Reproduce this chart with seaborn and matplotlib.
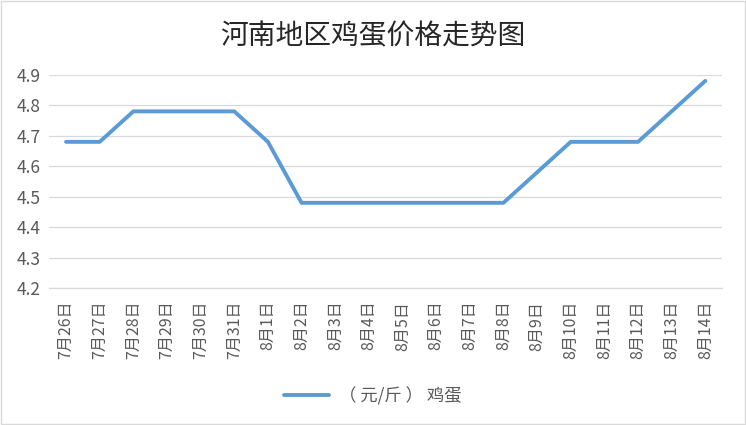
import matplotlib
matplotlib.use('Agg')
import matplotlib.pyplot as plt
import seaborn as sns
import pandas as pd
from matplotlib.ticker import FixedLocator, NullFormatter

dates = ['7月26日', '7月27日', '7月28日', '7月29日', '7月30日', '7月31日', '8月1日',
         '8月2日', '8月3日', '8月4日', '8月5日', '8月6日', '8月7日', '8月8日',
         '8月9日', '8月10日', '8月11日', '8月12日', '8月13日', '8月14日']
prices = [4.68, 4.68, 4.78, 4.78, 4.78, 4.78, 4.68, 4.48, 4.48, 4.48, 4.48, 4.48,
          4.48, 4.48, 4.58, 4.68, 4.68, 4.68, 4.78, 4.88]
yticks = [4.2, 4.3, 4.4, 4.5, 4.6, 4.7, 4.8, 4.9]
series_name = '（ 元/斤 ） 鸡蛋'

df = pd.DataFrame({'x': range(len(dates)), 'price': prices, 'name': series_name})

sns.set_style('white')
plt.rcParams['font.family'] = ['Noto Sans CJK SC', 'DejaVu Sans']

fig = plt.figure(figsize=(7.46, 4.25), dpi=100)
ax = fig.add_axes([0.066, 0.322, 0.902, 0.502])

sns.lineplot(data=df, x='x', y='price', hue='name', palette=['#5B9BD5'],
             linewidth=2.8, ax=ax, legend=True)
for ln in ax.lines:
    ln.set_solid_capstyle('round')

ax.set_xlim(-0.5, len(dates) - 0.5)
ax.set_ylim(4.2, 4.9)
ax.set_yticks(yticks)
ax.set_yticklabels([f'{v:.1f}' for v in yticks], fontsize=12.5, color='#595959')
ax.yaxis.grid(True, color='#D9D9D9', linewidth=0.9)
ax.set_axisbelow(True)

ax.set_xticks(range(len(dates)))
ax.set_xticklabels(dates, rotation=90, fontsize=11.5, color='#595959', va='top')
ax.tick_params(axis='x', which='major', length=0, pad=9)
ax.tick_params(axis='y', length=0, pad=6)
ax.xaxis.set_minor_locator(FixedLocator([i - 0.5 for i in range(len(dates) + 1)]))
ax.xaxis.set_minor_formatter(NullFormatter())
ax.tick_params(axis='x', which='minor', length=5, color='#D9D9D9', width=0.9)

for s in ['top', 'right', 'left']:
    ax.spines[s].set_visible(False)
ax.spines['bottom'].set_color('#D9D9D9')
ax.spines['bottom'].set_linewidth(0.9)

ax.set_xlabel('')
ax.set_ylabel('')

fig.text(0.5, 0.915, '河南地区鸡蛋价格走势图', ha='center', va='center',
         fontsize=20, color='#262626')

handles, labels = ax.get_legend_handles_labels()
ax.legend(handles, labels, loc='center', bbox_to_anchor=(0.5, 0.068),
          bbox_transform=fig.transFigure, frameon=False, fontsize=12.5,
          labelcolor='#595959', handlelength=2.6, handletextpad=0.6)

fig.patches.append(plt.Rectangle((0.001, 0.002), 0.997, 0.995, transform=fig.transFigure,
                                 fill=False, edgecolor='#D9D9D9', linewidth=1))

fig.savefig('out.png', dpi=100)
